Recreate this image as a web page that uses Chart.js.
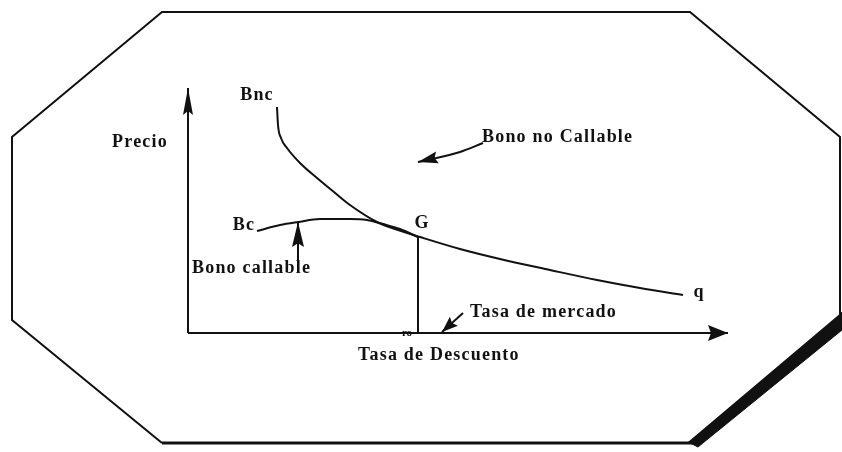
<!DOCTYPE html>
<html>
<head>
<meta charset="utf-8">
<script src="https://cdn.jsdelivr.net/npm/chart.js@4/dist/chart.umd.min.js"></script>
<style>
  html, body { margin: 0; padding: 0; background: #ffffff; }
  #c { display: block; }
</style>
</head>
<body>
<canvas id="c" width="842" height="452"></canvas>
<script>
// ---- Data (diagram units, origin at the axes' corner) ----
// Bono no callable (Bnc): price vs discount rate
const bncRate  = [89, 90, 93, 99, 112, 129, 146, 162, 189, 207, 232, 272, 312, 362, 409, 452, 495];
const bncPrice = [226, 208, 195, 185, 170, 155, 141, 128, 111, 104, 96, 84, 74, 63, 53, 45, 38];
// Bono callable (Bc)
const bcRate  = [69, 92, 110, 132, 162, 179, 195, 212, 230];
const bcPrice = [102, 108, 111, 114, 114, 113, 109, 104, 96];
// Market rate r0 and price at G
const marketRate = [230, 230];
const marketPrice = [96, 0];
// Axes extents
const xAxisX = [0, 540], xAxisY = [0, 0];
const yAxisX = [0, 0],   yAxisY = [0, 245];
// Annotation arrows (tail -> tip)
const arrNoCallX = [295, 272, 230], arrNoCallY = [190, 181, 171];
const arrCallX   = [110, 110], arrCallY   = [73, 111];
const arrMktX    = [275, 254], arrMktY    = [20, 1];
// Octagonal frame
const frameX = [-26, -176, -176, -26, 502, 652, 652];
const frameY = [-110, 13, 196, 321, 321, 196, 13];
const frameBottomX = [-26, 505], frameBottomY = [-110, -110];
const frameShadeX = [654, 654, 510, 500],  frameShadeY = [21, 3, -114, -109];
// Text labels
const labelTexts = ["Precio", "Bnc", "Bono no Callable", "Bc", "G", "Bono callable", "q", "ro", "Tasa de mercado", "Tasa de Descuento"];
const labelX     = [-48, 69, 294, 56, 234, 4, 511, 219, 282, 170];
const labelY     = [191, 238, 196, 108, 110, 65, 41, 0, 21, -22];
const labelAlign = ["center", "center", "left", "center", "center", "left", "center", "center", "left", "left"];

const pts = (xs, ys) => xs.map((x, i) => ({ x: x, y: ys[i] }));
const INK = '#111111';

function lineDs(xs, ys, width, extra) {
  return Object.assign({
    data: pts(xs, ys),
    showLine: true,
    borderColor: INK,
    backgroundColor: INK,
    borderWidth: width,
    pointRadius: 0,
    pointHoverRadius: 0,
    fill: false,
    tension: 0
  }, extra || {});
}

const arrowPlugin = {
  id: 'arrowHeads',
  afterDatasetsDraw(chart) {
    const ctx = chart.ctx;
    chart.data.datasets.forEach((ds, i) => {
      if (!ds.arrowHead) return;
      const d = chart.getDatasetMeta(i).data;
      const tip = d[d.length - 1], prev = d[d.length - 2];
      const a = Math.atan2(tip.y - prev.y, tip.x - prev.x);
      const L = ds.arrowHead[0], W = ds.arrowHead[1];
      const bx = tip.x - L * Math.cos(a), by = tip.y - L * Math.sin(a);
      ctx.save();
      ctx.fillStyle = INK;
      ctx.beginPath();
      ctx.moveTo(tip.x, tip.y);
      ctx.lineTo(bx - W * Math.sin(a), by + W * Math.cos(a));
      ctx.lineTo(bx + L * 0.15 * Math.cos(a), by + L * 0.15 * Math.sin(a));
      ctx.lineTo(bx + W * Math.sin(a), by - W * Math.cos(a));
      ctx.closePath();
      ctx.fill();
      ctx.restore();
    });
  }
};

const labelPlugin = {
  id: 'labels',
  afterDraw(chart) {
    const ctx = chart.ctx, sx = chart.scales.x, sy = chart.scales.y;
    ctx.save();
    ctx.fillStyle = INK;
    ctx.textBaseline = 'middle';
    labelTexts.forEach((t, i) => {
      const small = (t === 'ro');
      ctx.font = small ? 'bold 11px "Liberation Serif"' : 'bold 18px "Liberation Serif"';
      try { ctx.letterSpacing = small ? '0px' : '1.2px'; } catch (e) {}
      let x = sx.getPixelForValue(labelX[i]);
      const y = sy.getPixelForValue(labelY[i]);
      if (labelAlign[i] === 'center') {
        const w = ctx.measureText(t).width;
        x -= w / 2;
      }
      ctx.textAlign = 'left';
      ctx.fillText(t, x, y);
    });
    ctx.restore();
  }
};

new Chart(document.getElementById('c'), {
  type: 'scatter',
  data: {
    datasets: [
      lineDs(frameX, frameY, 2),
      lineDs(frameBottomX, frameBottomY, 3),
      lineDs(frameShadeX, frameShadeY, 1, { fill: 'shape' }),
      lineDs(xAxisX, xAxisY, 2, { arrowHead: [20, 8] }),
      lineDs(yAxisX, yAxisY, 2, { arrowHead: [27, 5] }),
      lineDs(bncRate, bncPrice, 2, { cubicInterpolationMode: 'monotone' }),
      lineDs(bcRate, bcPrice, 2, { cubicInterpolationMode: 'monotone' }),
      lineDs(marketRate, marketPrice, 2),
      lineDs(arrNoCallX, arrNoCallY, 2, { arrowHead: [20, 6], cubicInterpolationMode: 'monotone' }),
      lineDs(arrCallX, arrCallY, 2, { arrowHead: [25, 6] }),
      lineDs(arrMktX, arrMktY, 2, { arrowHead: [16, 6] })
    ]
  },
  options: {
    responsive: false,
    animation: false,
    events: [],
    layout: { padding: 0 },
    plugins: { legend: { display: false }, tooltip: { enabled: false } },
    scales: {
      x: { type: 'linear', min: -188, max: 654, display: false },
      y: { type: 'linear', min: -119, max: 333, display: false }
    }
  },
  plugins: [arrowPlugin, labelPlugin]
});
</script>
</body>
</html>
